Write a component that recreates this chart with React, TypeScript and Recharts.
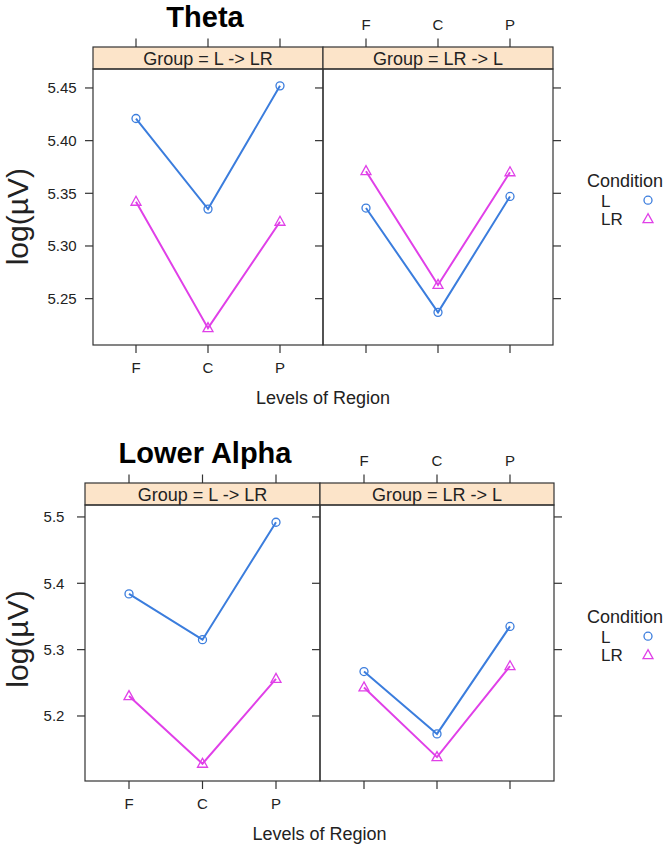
import React from 'react'
import { LineChart, Line, XAxis, YAxis } from 'recharts'

// categories
const regions = ['F', 'C', 'P']
const groups = ['Group = L -> LR', 'Group = LR -> L']
const conditions = ['L', 'LR']

// Theta, log(uV)
const thetaL_LtoLR = [5.421, 5.335, 5.452]
const thetaLR_LtoLR = [5.342, 5.222, 5.323]
const thetaL_LRtoL = [5.336, 5.237, 5.347]
const thetaLR_LRtoL = [5.371, 5.263, 5.37]

// Lower Alpha, log(uV)
const alphaL_LtoLR = [5.384, 5.315, 5.492]
const alphaLR_LtoLR = [5.23, 5.128, 5.256]
const alphaL_LRtoL = [5.267, 5.173, 5.335]
const alphaLR_LRtoL = [5.243, 5.138, 5.275]

const thetaTicks = [5.25, 5.3, 5.35, 5.4, 5.45]
const alphaTicks = [5.2, 5.3, 5.4, 5.5]

const FONT = '"Liberation Sans", Arial, Helvetica, sans-serif'
const INK = '#222'
const FRAME = '#333'
const STRIP = '#fce4c9'
const COLORS: Record<string, string> = { L: '#3b7ddd', LR: '#e040e8' }
const STRIP_H = 22

const toRows = (l: number[], lr: number[]) =>
  regions.map((region, i) => ({ region, L: l[i], LR: lr[i] }))

function Marker({ cx, cy, cond }: { cx: number; cy: number; cond: string }) {
  const c = COLORS[cond]
  if (cond === 'L') return <circle cx={cx} cy={cy} r={4} fill="none" stroke={c} strokeWidth={1.3} />
  return (
    <polygon
      points={`${cx},${cy - 5.5} ${cx - 5},${cy + 3.5} ${cx + 5},${cy + 3.5}`}
      fill="none"
      stroke={c}
      strokeWidth={1.3}
    />
  )
}

interface PanelProps {
  x0: number
  x1: number
  y0: number
  y1: number
  rows: Array<{ region: string; L: number; LR: number }>
  domain: [number, number]
  ticks: number[]
  digits: number
  leftLabels: boolean
  topLabels: boolean
  bottomLabels: boolean
}

function Panel({ x0, x1, y0, y1, rows, domain, ticks, digits, leftLabels, topLabels, bottomLabels }: PanelProps) {
  const w = x1 - x0
  const h = y1 - y0
  const W = w + 160
  const H = h + 140
  const pad = Math.round(w * 0.1875)
  const stripTop = 70 - STRIP_H

  return (
    <div style={{ position: 'absolute', left: x0 - 80, top: y0 - 70 }}>
      <LineChart width={W} height={H} data={rows} margin={{ top: 0, right: 0, bottom: 0, left: 0 }}>
        <XAxis
          xAxisId="b"
          dataKey="region"
          orientation="bottom"
          height={70}
          interval={0}
          padding={{ left: pad, right: pad }}
          axisLine={false}
          tickLine={false}
          tick={(p: any) => (
            <g>
              <line x1={p.x} x2={p.x} y1={H - 70} y2={H - 62} stroke={FRAME} strokeWidth={1.2} />
              {bottomLabels && (
                <text x={p.x} y={H - 70 + 28} textAnchor="middle" fontSize={15} fill={INK} fontFamily={FONT}>
                  {p.payload.value}
                </text>
              )}
            </g>
          )}
        />
        <XAxis
          xAxisId="t"
          dataKey="region"
          orientation="top"
          height={70}
          interval={0}
          padding={{ left: pad, right: pad }}
          axisLine={false}
          tickLine={false}
          tick={(p: any) => (
            <g>
              <line x1={p.x} x2={p.x} y1={stripTop - 8.5} y2={stripTop} stroke={FRAME} strokeWidth={1.2} />
              {topLabels && (
                <text x={p.x} y={stripTop - 17} textAnchor="middle" fontSize={15} fill={INK} fontFamily={FONT}>
                  {p.payload.value}
                </text>
              )}
            </g>
          )}
        />
        <YAxis
          yAxisId="l"
          orientation="left"
          width={80}
          type="number"
          domain={domain}
          ticks={ticks}
          interval={0}
          allowDataOverflow
          axisLine={false}
          tickLine={false}
          tick={(p: any) => (
            <g>
              <line x1={72} x2={80} y1={p.y} y2={p.y} stroke={FRAME} strokeWidth={1.2} />
              {leftLabels && (
                <text x={49} y={p.y} dy="0.36em" textAnchor="middle" fontSize={15} fill={INK} fontFamily={FONT}>
                  {Number(p.payload.value).toFixed(digits)}
                </text>
              )}
            </g>
          )}
        />
        <YAxis
          yAxisId="r"
          orientation="right"
          width={80}
          type="number"
          domain={domain}
          ticks={ticks}
          interval={0}
          allowDataOverflow
          axisLine={false}
          tickLine={false}
          tick={(p: any) =>
            leftLabels ? (
              <g />
            ) : (
              <line x1={W - 80} x2={W - 72} y1={p.y} y2={p.y} stroke={FRAME} strokeWidth={1.2} />
            )
          }
        />
        {conditions.map((cond) => (
          <Line
            key={cond}
            xAxisId="b"
            yAxisId="l"
            dataKey={cond}
            stroke={COLORS[cond]}
            strokeWidth={2}
            isAnimationActive={false}
            dot={(d: any) => <Marker key={`${cond}-${d.index}`} cx={d.cx} cy={d.cy} cond={cond} />}
          />
        ))}
      </LineChart>
    </div>
  )
}

interface FigureProps {
  title: string
  x0: number
  xd: number
  x1: number
  y0: number
  y1: number
  left: Array<{ region: string; L: number; LR: number }>
  right: Array<{ region: string; L: number; LR: number }>
  domain: [number, number]
  ticks: number[]
  digits: number
  ylabY: number
  legendY: number
}

function Figure(f: FigureProps) {
  const stripTop = f.y0 - STRIP_H
  return (
    <>
      <Panel x0={f.x0} x1={f.xd} y0={f.y0} y1={f.y1} rows={f.left} domain={f.domain} ticks={f.ticks}
        digits={f.digits} leftLabels topLabels={false} bottomLabels />
      <Panel x0={f.xd} x1={f.x1} y0={f.y0} y1={f.y1} rows={f.right} domain={f.domain} ticks={f.ticks}
        digits={f.digits} leftLabels={false} topLabels bottomLabels={false} />
      <svg width={669} height={851} style={{ position: 'absolute', left: 0, top: 0, pointerEvents: 'none' }}
        fontFamily={FONT}>
        {[[f.x0, f.xd], [f.xd, f.x1]].map(([a, b], i) => (
          <g key={i}>
            <rect x={a} y={stripTop} width={b - a} height={STRIP_H} fill={STRIP} stroke={FRAME} strokeWidth={1.2} />
            <text x={(a + b) / 2} y={stripTop + 18} textAnchor="middle" fontSize={18} fill={INK}>
              {groups[i]}
            </text>
            <rect x={a} y={f.y0} width={b - a} height={f.y1 - f.y0} fill="none" stroke={FRAME} strokeWidth={1.2} />
          </g>
        ))}
        <text x={205} y={stripTop - 20.5} textAnchor="middle" fontSize={29} fontWeight="bold" fill="#000">
          {f.title}
        </text>
        <text transform={`translate(28,${f.ylabY}) rotate(-90)`} textAnchor="middle" fontSize={30} fill={INK}>
          log(µV)
        </text>
        <text x={(f.x0 + f.x1) / 2} y={f.y1 + 59} textAnchor="middle" fontSize={18} fill={INK}>
          Levels of Region
        </text>
        <text x={587} y={f.legendY} fontSize={18} fill={INK}>Condition</text>
        {conditions.map((cond, i) => (
          <g key={cond}>
            <text x={601} y={f.legendY + 20 + i * 18.5} fontSize={17} fill={INK}>{cond}</text>
            <Marker cx={648} cy={f.legendY + 13.5 + i * 19} cond={cond} />
          </g>
        ))}
      </svg>
    </>
  )
}

export default function App() {
  return (
    <div style={{ position: 'absolute', left: 0, top: 0, width: 669, height: 851, background: '#fff' }}>
      <Figure
        title="Theta"
        x0={93}
        xd={323}
        x1={553}
        y0={69}
        y1={345}
        left={toRows(thetaL_LtoLR, thetaLR_LtoLR)}
        right={toRows(thetaL_LRtoL, thetaLR_LRtoL)}
        domain={[5.206, 5.468]}
        ticks={thetaTicks}
        digits={2}
        ylabY={216.7}
        legendY={186.7}
      />
      <Figure
        title="Lower Alpha"
        x0={85}
        xd={320}
        x1={554}
        y0={505}
        y1={781}
        left={toRows(alphaL_LtoLR, alphaLR_LtoLR)}
        right={toRows(alphaL_LRtoL, alphaLR_LRtoL)}
        domain={[5.102, 5.518]}
        ticks={alphaTicks}
        digits={1}
        ylabY={639}
        legendY={622.7}
      />
    </div>
  )
}
